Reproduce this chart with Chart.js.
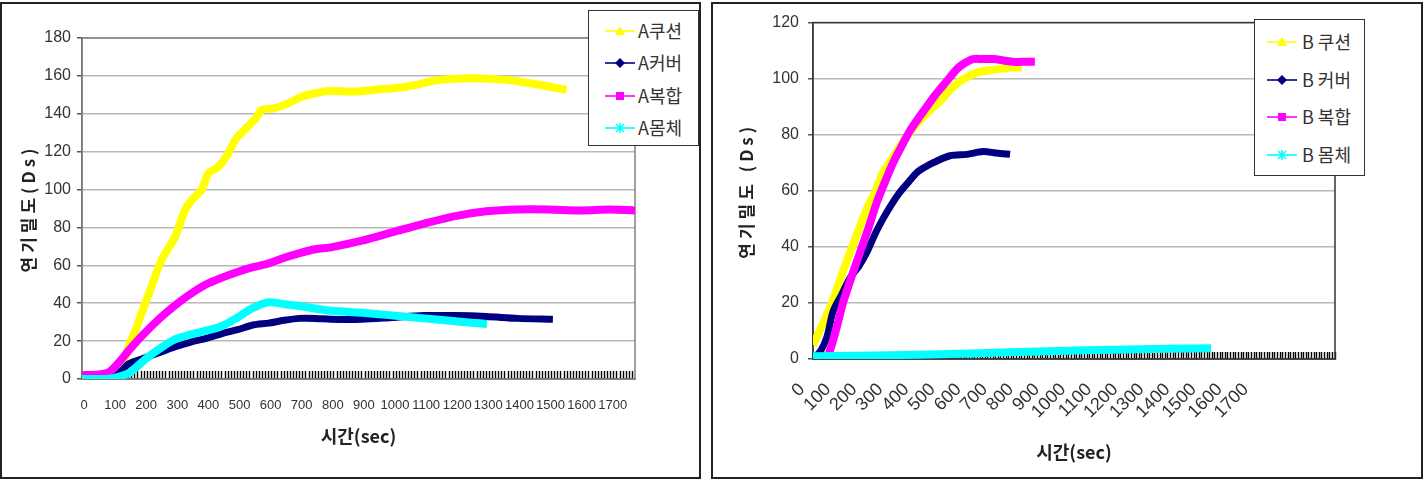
<!DOCTYPE html>
<html>
<head>
<meta charset="utf-8">
<script src="https://cdn.jsdelivr.net/npm/chart.js@4.4.1/dist/chart.umd.min.js"></script>
<style>
  body { margin: 0; background: #fff; width: 1425px; height: 480px; position: relative; overflow: hidden; }
  .box { position: absolute; border: 2px solid #222; background: #fff; }
  #boxA { left: 0; top: 2px; width: 697px; height: 473px; }
  #boxB { left: 711px; top: 2px; width: 708px; height: 473px; }
  canvas { position: absolute; left: 0; top: 0; }
  .legend { position: absolute; box-sizing: border-box; border: 1.5px solid #333; background: #fff;
            font-family: "Noto Sans CJK KR", sans-serif; font-size: 18px; color: #333; }
  .legend .row { position: absolute; left: 0; height: 20px; white-space: nowrap; }
  .legend svg { position: absolute; top: 4px; }
  .legend span { position: absolute; top: -3px; line-height: 24px; }
</style>
</head>
<body>
<div class="box" id="boxA">
  <canvas id="chartA" width="697" height="473"></canvas>
  <div class="legend" id="legendA" style="left:586px; top:6px; width:111px; height:136px;"></div>
</div>
<div class="box" id="boxB">
  <canvas id="chartB" width="708" height="473"></canvas>
  <div class="legend" id="legendB" style="left:541px; top:15px; width:111px; height:157px;"></div>
</div>
<script>
// ---- chart A (left) ----
const labelsA = ['A쿠션', 'A커버', 'A복합', 'A몸체'];

const timeCushionA = [0, 60, 100, 130, 154, 175, 192, 224, 256, 299, 331, 353, 385, 406, 438, 470, 492, 513, 556, 578, 620, 663, 706, 749, 792, 878, 937, 1044, 1151, 1258, 1366, 1473, 1558];
const cushionA     = [0, 0, 2, 8, 19, 27, 35, 49, 63, 75, 89, 94.5, 100, 108.5, 112, 119, 126, 130, 137, 142, 143, 145.5, 149, 150.8, 152, 151.7, 152.6, 154.3, 157.9, 158.8, 157.9, 155.2, 152.6];

const timeCoverA = [0, 60, 100, 125, 150, 200, 250, 300, 350, 400, 450, 500, 550, 600, 650, 700, 750, 800, 900, 1000, 1100, 1200, 1300, 1400, 1514];
const coverA     = [0, 0, 1, 4, 8, 11, 14, 17, 19.5, 21.5, 24, 26, 28.5, 29.5, 31, 32, 32, 31.5, 31.5, 32.5, 33.5, 33.5, 33, 32, 31.5];

const timeComplexA = [0, 60, 90, 125, 150, 200, 250, 300, 350, 400, 450, 500, 550, 600, 650, 700, 750, 800, 900, 1000, 1100, 1200, 1300, 1400, 1500, 1600, 1700, 1778];
const complexA     = [2, 2.5, 4, 10, 15, 24, 32, 39, 45, 50, 53.5, 56.5, 59, 61, 64, 66.5, 68.5, 69.5, 73, 77.5, 82, 86, 88.5, 89.5, 89.5, 89, 89.5, 89];

const timeBodyA = [0, 60, 100, 150, 200, 250, 300, 350, 400, 450, 500, 550, 600, 650, 700, 800, 900, 1000, 1100, 1200, 1302];
const bodyA     = [0, 0, 0.5, 3, 10, 16, 21, 23.5, 25.5, 28, 32.5, 37.5, 40.5, 39.5, 38.5, 36, 35, 33.5, 32, 30.5, 29];

// ---- chart B (right) ----
const labelsB = ['B 쿠션', 'B 커버', 'B 복합', 'B 몸체'];

const timeCushionB = [0, 25, 50, 77, 110, 142, 175, 206, 240, 268, 300, 333, 365, 398, 440, 487, 525, 562, 600, 640, 680, 716, 760, 800];
const cushionB     = [5, 10, 15, 21, 30, 38, 46, 53.5, 60, 66.5, 71, 76, 80, 84, 88, 92, 96, 99, 101, 102.5, 103, 103.5, 104, 104];

const timeCoverB = [0, 30, 54, 77, 110, 142, 175, 206, 240, 268, 300, 333, 365, 398, 430, 460, 525, 590, 651, 700, 755];
const coverB     = [0, 3, 8, 17, 23, 29, 33, 38, 45, 50, 55, 59.5, 63, 66.5, 68.5, 70, 72.5, 73, 74, 73.5, 73];

const timeComplexB = [0, 30, 55, 65, 90, 115, 150, 180, 210, 245, 275, 307, 340, 372, 405, 436, 467, 498, 525, 552, 580, 613, 650, 690, 730, 766, 800, 850];
const complexB     = [0, 0.5, 1, 3, 11, 20, 30, 38, 46, 56, 63, 70, 76, 81.5, 86, 90, 94, 97.5, 100.5, 103.5, 105.5, 107, 107, 107, 106.5, 106, 106, 106];

const timeBodyB = [0, 300, 600, 900, 1200, 1525];
const bodyB     = [1, 1.3, 2, 2.8, 3.4, 3.8];

const colors  = ['#ffff00', '#000080', '#ff00ff', '#00ffff'];
const markers = ['triangle', 'diamond', 'square', 'star'];

function toPoints(times, values) {
  return times.map((t, i) => ({ x: t, y: values[i] }));
}

function buildDatasets(labels, series) {
  return series.map((s, i) => ({
    label: labels[i],
    data: toPoints(s[0], s[1]),
    borderColor: colors[i],
    backgroundColor: colors[i],
    borderWidth: i === 1 ? 7 : 8,
    pointRadius: 0,
    tension: 0.3,
    order: 4 - i // later series drawn on top, like the original
  }));
}

// frame around the plot area
const plotFrame = {
  id: 'plotFrame',
  beforeDatasetsDraw(chart, args, opts) {
    const { ctx, chartArea } = chart;
    ctx.save();
    ctx.strokeStyle = opts.color;
    ctx.lineWidth = 1.5;
    ctx.strokeRect(chartArea.left, chartArea.top, chartArea.right - chartArea.left, chartArea.bottom - chartArea.top);
    ctx.restore();
  }
};

// y title is letter spaced in the original
const spacedTitle = {
  id: 'spacedTitle',
  beforeDraw(chart) {
    const s = chart.scales.y;
    if (s._spaced) return;
    const orig = s.drawTitle;
    s.drawTitle = function () {
      this.ctx.save();
      this.ctx.letterSpacing = '4px';
      orig.apply(this, arguments);
      this.ctx.restore();
    };
    s._spaced = true;
  }
};

function makeChart(id, opt) {
  const tickValues = [];
  for (let v = 0; v <= opt.xMax; v += 10) tickValues.push(v);

  return new Chart(document.getElementById(id), {
    type: 'line',
    data: { datasets: opt.datasets },
    plugins: [plotFrame, spacedTitle],
    options: {
      responsive: false,
      animation: false,
      devicePixelRatio: 1,
      layout: { padding: opt.padding },
      plugins: {
        legend: { display: false },
        tooltip: { enabled: false },
        plotFrame: { color: opt.frameColor }
      },
      scales: {
        x: {
          type: 'linear',
          min: 0,
          max: opt.xMax,
          afterBuildTicks: (axis) => { axis.ticks = tickValues.map(v => ({ value: v })); },
          afterFit: (scale) => { scale.height = opt.xHeight; },
          grid: { display: true, drawOnChartArea: false, tickLength: opt.hatch, tickColor: '#000', tickWidth: 1.4 },
          border: { display: true, color: '#555', width: 1.5 },
          ticks: {
            autoSkip: false,
            minRotation: opt.rotation,
            maxRotation: opt.rotation,
            padding: opt.xPad,
            labelOffset: opt.labelOffset,
            color: '#333',
            font: { family: '"Liberation Sans", Arial, sans-serif', size: opt.xFontSize },
            callback: (v) => (v % 100 === 0 && v <= 1700 ? String(v) : '')
          },
          title: {
            display: true,
            text: '시간(sec)',
            color: '#222',
            font: { family: '"Liberation Sans Narrow", "Noto Sans CJK KR", sans-serif', size: 18, weight: 'bold' },
            padding: { top: 0, bottom: opt.xTitlePad }
          }
        },
        y: {
          min: 0,
          max: opt.yMax,
          afterFit: (scale) => { scale.width = opt.yWidth; },
          grid: { color: '#b8b8b8', lineWidth: 1.5, tickLength: 5, tickColor: '#555' },
          border: { display: true, color: '#555', width: 1.5 },
          ticks: {
            stepSize: 20,
            padding: opt.yPad,
            color: '#333',
            font: { family: '"Liberation Sans", Arial, sans-serif', size: 16 }
          },
          title: {
            display: true,
            text: opt.yTitle,
            color: '#222',
            font: { family: '"Noto Sans CJK KR", sans-serif', size: 17, weight: 'bold' },
            padding: { top: opt.yTitlePad, bottom: 0 }
          }
        }
      }
    }
  });
}

makeChart('chartA', {
  datasets: buildDatasets(labelsA, [[timeCushionA, cushionA], [timeCoverA, coverA], [timeComplexA, complexA], [timeBodyA, bodyA]]),
  xMax: 1778, yMax: 180,
  padding: { left: 0, top: 34, right: 64, bottom: 0 },
  xHeight: 98, yWidth: 80,
  hatch: -8, rotation: 0, xPad: 27, labelOffset: 2, xFontSize: 13,
  xTitlePad: 30, yPad: 6, yTitlePad: 16,
  yTitle: '연기밀도(Ds)', frameColor: '#808080'
});

makeChart('chartB', {
  datasets: buildDatasets(labelsB, [[timeCushionB, cushionB], [timeCoverB, coverB], [timeComplexB, complexB], [timeBodyB, bodyB]]),
  xMax: 2000, yMax: 120,
  padding: { left: 0, top: 14, right: 86, bottom: 0 },
  xHeight: 118, yWidth: 100,
  hatch: -7, rotation: 45, xPad: 27, labelOffset: -11, xFontSize: 18,
  xTitlePad: 14, yPad: 9, yTitlePad: 23,
  yTitle: '연기밀도 (Ds)', frameColor: '#333'
});

// ---- legends ----
function markerSvg(kind, color) {
  let shape = '';
  if (kind === 'triangle') shape = `<polygon points="15,1 20,10 10,10" fill="${color}"/>`;
  if (kind === 'diamond') shape = `<polygon points="15,1 20,6 15,11 10,6" fill="${color}"/>`;
  if (kind === 'square') shape = `<rect x="11" y="2" width="8" height="8" fill="${color}"/>`;
  if (kind === 'star') shape = `<path d="M11,2 L19,10 M19,2 L11,10 M15,1 L15,11" stroke="${color}" stroke-width="1.6"/>`;
  return `<svg width="30" height="12" viewBox="0 0 30 12"><line x1="0" y1="6" x2="30" y2="6" stroke="${color}" stroke-width="1.6"/>${shape}</svg>`;
}

function buildLegend(id, labels, rowTops, lineLeft, textLeft) {
  const box = document.getElementById(id);
  labels.forEach((label, i) => {
    const row = document.createElement('div');
    row.className = 'row';
    row.style.top = rowTops[i] + 'px';
    row.innerHTML = markerSvg(markers[i], colors[i]).replace('<svg ', `<svg style="left:${lineLeft}px" `) +
      `<span style="left:${textLeft}px">${label}</span>`;
    box.appendChild(row);
  });
}

buildLegend('legendA', labelsA, [10, 42, 75, 107], 16, 49);
buildLegend('legendB', labelsB, [12, 50, 87, 125], 12, 47);
</script>
</body>
</html>
